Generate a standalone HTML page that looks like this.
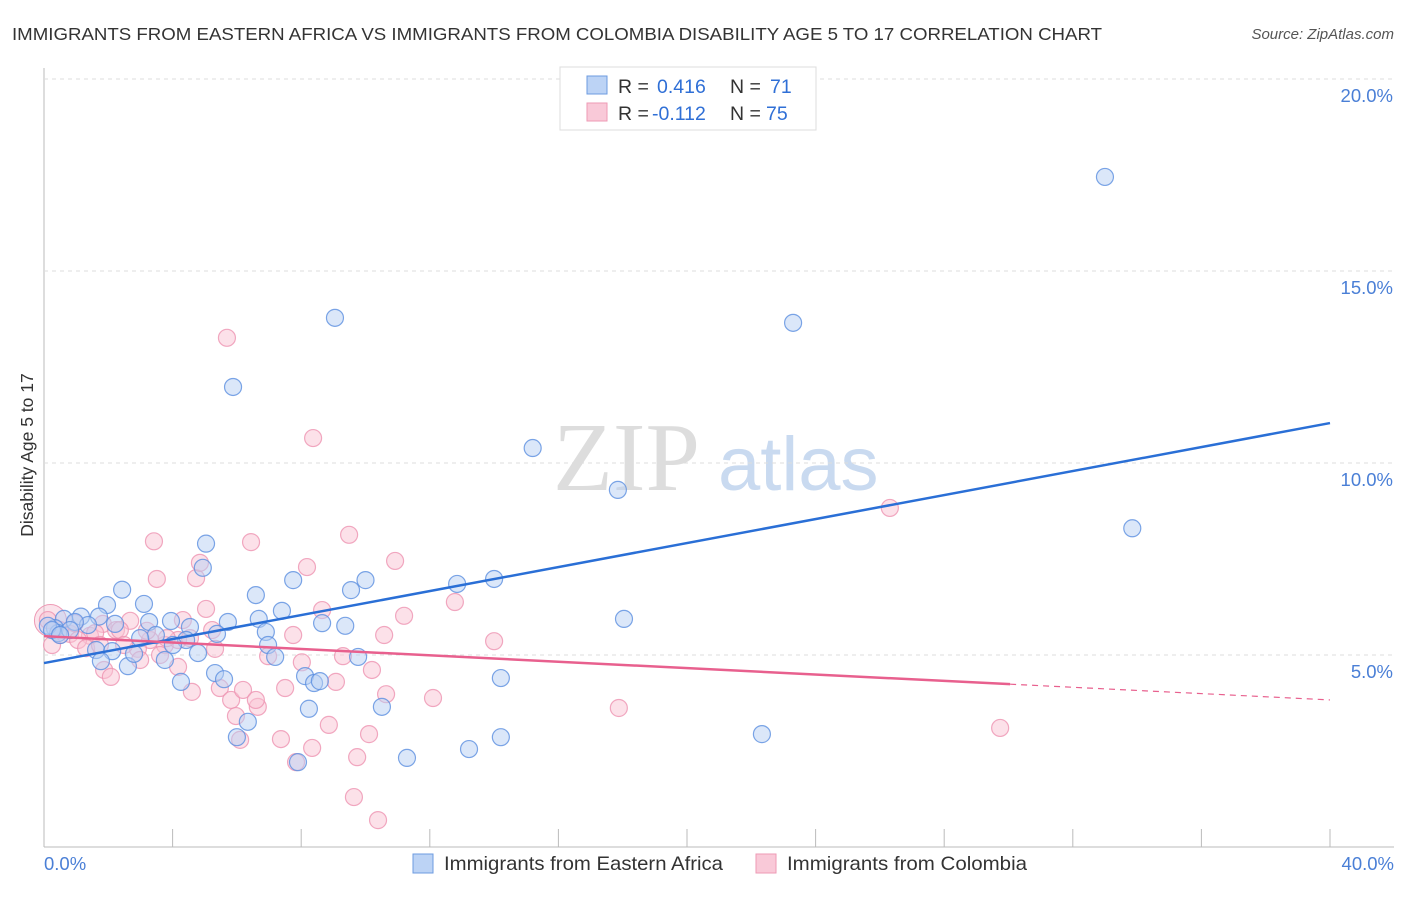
<!DOCTYPE html>
<html><head><meta charset="utf-8"><style>
body{margin:0;background:#fff;font-family:"Liberation Sans",sans-serif;}
</style></head><body>
<svg id="chart" width="1406" height="892" xmlns="http://www.w3.org/2000/svg">
<text x="12" y="40" font-size="17.5" fill="#333" textLength="1090" lengthAdjust="spacingAndGlyphs">IMMIGRANTS FROM EASTERN AFRICA VS IMMIGRANTS FROM COLOMBIA DISABILITY AGE 5 TO 17 CORRELATION CHART</text>
<text x="1394" y="39" font-size="15" fill="#555" font-style="italic" text-anchor="end">Source: ZipAtlas.com</text>
<text x="0" y="0" transform="translate(33,455) rotate(-90)" font-size="17.5" fill="#333" text-anchor="middle">Disability Age 5 to 17</text>
<text x="553" y="490" font-size="98" fill="#ddd" font-family="Liberation Serif,serif">ZIP</text>
<text x="718" y="490" font-size="76" fill="#c9daf0">atlas</text>
<g id="grid"></g><g id="pts"></g><g id="lines"></g>
<g>
<rect x="560" y="67" width="256" height="63" fill="#fff" stroke="#ddd"/>
<rect x="587" y="76" width="20" height="18" fill="#bcd3f5" stroke="#6d9be0"/>
<rect x="587" y="103" width="20" height="18" fill="#f9c9d8" stroke="#ee9ab5"/>
<text x="618" y="93" font-size="19.5" fill="#333">R = <tspan x="657" fill="#2f6fd6">0.416</tspan><tspan x="730">N = </tspan><tspan x="770" fill="#2f6fd6">71</tspan></text>
<text x="618" y="120" font-size="19.5" fill="#333">R = <tspan x="652" fill="#2f6fd6">-0.112</tspan><tspan x="730">N = </tspan><tspan x="766" fill="#2f6fd6">75</tspan></text>
</g>
<g>
<rect x="413" y="854" width="20" height="19" fill="#bcd3f5" stroke="#6d9be0"/>
<text x="444" y="870" font-size="19.5" fill="#333" textLength="279" lengthAdjust="spacingAndGlyphs">Immigrants from Eastern Africa</text>
<rect x="756" y="854" width="20" height="19" fill="#f9c9d8" stroke="#ee9ab5"/>
<text x="787" y="870" font-size="19.5" fill="#333" textLength="240" lengthAdjust="spacingAndGlyphs">Immigrants from Colombia</text>
</g>
<text x="44" y="870" font-size="18.5" fill="#4a7fd6">0.0%</text>
<text x="1394" y="870" font-size="18.5" fill="#4a7fd6" text-anchor="end">40.0%</text>
</svg>
<script>
const blueX=[33,23.3,9.05,5.88,15.2,17.85,33.85,5.04,4.94,7.75,10,9.55,12.85,14,2.43,1.96,3.11,6.59,7.4,6.68,5.72,8.65,9.37,18.04,3.95,3.27,4.54,6.9,5.38,3.48,2.99,1.71,1.15,0.62,0.34,0.44,0.12,2.21,1.37,4.42,6.97,4.01,4.79,1.62,7.19,9.77,2.12,1.77,2.61,3.76,14.21,5.32,5.6,8.12,8.4,8.58,4.26,8.24,10.51,6,6.34,14.21,22.33,13.22,11.29,7.9,2.8,0.96,0.25,0.81,0.5];
const blueY=[17.45,13.65,13.78,11.98,10.39,9.3,8.3,7.9,7.27,6.95,6.95,6.69,6.85,6.98,6.7,6.3,6.33,6.56,6.15,5.94,5.86,5.83,5.76,5.94,5.885,5.86,5.73,5.6,5.55,5.52,5.44,6.0,6.0,5.94,5.7,5.57,5.76,5.81,5.78,5.39,5.26,5.26,5.05,5.13,4.95,4.95,5.1,4.84,4.71,4.87,4.4,4.53,4.37,4.45,4.27,4.32,4.3,3.6,3.65,2.86,3.26,2.86,2.94,2.55,2.32,2.21,5.03,5.86,5.65,5.65,5.52];
const pinkX=[5.69,8.37,26.31,3.42,6.44,9.49,10.92,8.18,3.51,4.73,4.85,12.78,5.04,8.65,11.2,14,10.58,7.75,4.32,5.23,2.68,1.83,2.24,1.43,0.81,0.5,0.12,1.06,3.3,3.76,4.17,2.92,6.97,8.02,9.3,4.17,1.87,2.08,10.2,4.6,5.47,5.82,6.19,6.65,7.5,9.08,10.64,12.1,17.88,29.74,5.97,6.59,8.86,7.37,6.1,8.34,9.74,10.11,7.84,9.64,10.39,0.5,1.31,2.36,3.82,3.2,1.59,0.25,0.96,1.74,4.54,5.32,2.99,3.61,2.49];
const pinkY=[13.26,10.65,8.83,7.96,7.94,8.13,7.45,7.29,6.98,7.0,7.4,6.38,6.2,6.17,6.02,5.36,5.52,5.52,5.91,5.65,5.89,5.81,5.65,5.5,5.55,5.65,5.91,5.39,5.39,5.26,5.39,5.16,4.97,4.81,4.97,4.69,4.61,4.43,4.61,4.04,4.14,3.83,4.09,3.65,4.14,4.3,3.98,3.88,3.62,3.1,3.41,3.83,3.18,2.81,2.79,2.58,2.34,2.94,2.21,1.3,0.7,5.52,5.18,5.65,5.44,5.63,5.57,5.26,5.83,5.26,5.44,5.16,4.87,5.0,5.26];
const xTicks=[0,4,8,12,16,20,24,28,32,36,40];
const yTicks=[5,10,15,20];
const yTickLabels=["5.0%","10.0%","15.0%","20.0%"];
const blueTrend=[4.79,11.04];
const pinkTrend=[5.49,4.24,3.83];

const NS="http://www.w3.org/2000/svg";
const sx=v=>44+v*32.15, sy=v=>847-v*38.4;
function mk(t,a,p){const e=document.createElementNS(NS,t);for(const k in a)e.setAttribute(k,a[k]);p.appendChild(e);return e;}
const grid=document.getElementById('grid');
mk('line',{x1:44,y1:68,x2:44,y2:847,stroke:'#bbb'},grid);
mk('line',{x1:44,y1:847,x2:1394,y2:847,stroke:'#bbb'},grid);
yTicks.forEach((t,i)=>{
 const l=mk('line',{x1:44,y1:sy(t),x2:1394,y2:sy(t),stroke:'#ddd','stroke-dasharray':'4,4'},grid);
 
 
 const tx=mk('text',{x:1393,y:sy(t)+23,'font-size':18.5,fill:'#4a7fd6','text-anchor':'end'},grid);
 tx.textContent=yTickLabels[i];
 
 
});
xTicks.forEach(t=>{
 const l=mk('line',{x1:sx(t),y1:829,x2:sx(t),y2:847,stroke:'#bbb'},grid);
 
 
});
const pts=document.getElementById('pts');
function dots(X,Y,fill,stroke,name){
 X.forEach((x,i)=>{
  const c=mk('circle',{cx:sx(x),cy:sy(Y[i]),r:8.5,fill:fill,'fill-opacity':0.5,stroke:stroke,'stroke-opacity':0.8,'stroke-width':1.2},pts);
  
  
 });
}
const bc=mk('circle',{cx:sx(0.2),cy:sy(5.9),r:16,fill:'#f4b8cc','fill-opacity':0.4,stroke:'#ee9ab5'},pts);


dots(pinkX,pinkY,'#f9c3d4','#ee93b1','colombia-point');
dots(blueX,blueY,'#b8d0f4','#5b8fe0','eastern-africa-point');
const lines=document.getElementById('lines');
const bl=mk('line',{x1:sx(0),y1:sy(blueTrend[0]),x2:sx(40),y2:sy(blueTrend[1]),stroke:'#2a6fd6','stroke-width':2.5},lines);


const pl=mk('line',{x1:sx(0),y1:sy(pinkTrend[0]),x2:sx(30.05),y2:sy(pinkTrend[1]),stroke:'#e8608e','stroke-width':2.5},lines);


const pd=mk('line',{x1:sx(30.05),y1:sy(pinkTrend[1]),x2:sx(40),y2:sy(pinkTrend[2]),stroke:'#e8608e','stroke-width':1.2,'stroke-dasharray':'6,5'},lines);


</script>
</body></html>
